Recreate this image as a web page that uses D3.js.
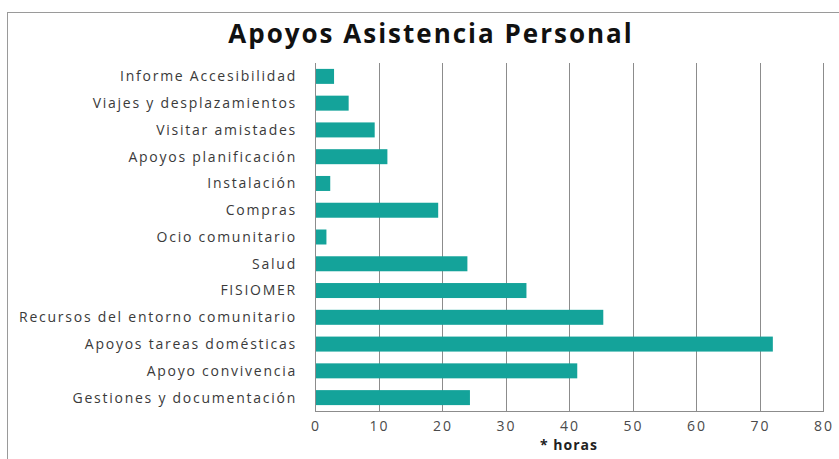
<!DOCTYPE html>
<html>
<head>
<meta charset="utf-8">
<script src="https://cdn.jsdelivr.net/npm/d3@7"></script>
<style>
  body { margin: 0; background: #fff; }
  svg { display: block; font-family: "Open Sans", sans-serif; }
  .y-label { fill: #3a3a3a; font-size: 14px; letter-spacing: 1.75px; }
  .tick-label { fill: #4a4a4a; font-size: 14px; letter-spacing: 2px; }
</style>
</head>
<body>
<div id="chart"></div>
<script>
// categories top to bottom, hours
const categories = [
  "Informe Accesibilidad",
  "Viajes y desplazamientos",
  "Visitar amistades",
  "Apoyos planificación",
  "Instalación",
  "Compras",
  "Ocio comunitario",
  "Salud",
  "FISIOMER",
  "Recursos del entorno comunitario",
  "Apoyos tareas domésticas",
  "Apoyo convivencia",
  "Gestiones y documentación"
];
const hours = [3, 5.3, 9.4, 11.4, 2.4, 19.4, 1.8, 24, 33.3, 45.4, 72.1, 41.3, 24.4];
const xTicks = [0, 10, 20, 30, 40, 50, 60, 70, 80];

const chartTitle = "Apoyos Asistencia Personal";
const xTitle = "* horas";

const width = 839, height = 459;
const margin = { top: 63, right: 16, bottom: 48, left: 315 };
const plotW = width - margin.left - margin.right;
const plotH = height - margin.top - margin.bottom;

const rows = categories.map((c, i) => ({ cat: c, val: hours[i] }));

const svg = d3.select("#chart").append("svg")
  .attr("width", width)
  .attr("height", height);

// outer chart frame
svg.append("rect")
  .attr("x", 7.5).attr("y", 12.5)
  .attr("width", width).attr("height", height)
  .attr("fill", "none")
  .attr("stroke", "#9a9a9a");

svg.append("text")
  .attr("x", 431).attr("y", 43)
  .attr("text-anchor", "middle")
  .attr("font-size", "26px")
  .attr("font-weight", "bold")
  .attr("letter-spacing", "2px")
  .attr("fill", "#111")
  .text(chartTitle);

const g = svg.append("g").attr("transform", `translate(${margin.left},${margin.top})`);

const x = d3.scaleLinear().domain([0, 80]).range([0, plotW]);
const y = d3.scaleBand().domain(categories).range([0, plotH]).paddingInner(0.44).paddingOuter(0.22);

// vertical gridlines
g.append("g").selectAll("line").data(xTicks.slice(1))
  .join("line")
  .attr("x1", d => Math.round(x(d)) + 0.5)
  .attr("x2", d => Math.round(x(d)) + 0.5)
  .attr("y1", 0).attr("y2", plotH)
  .attr("stroke", "#8c8c8c");

// bars
g.append("g").selectAll("rect").data(rows)
  .join("rect")
  .attr("x", x(0))
  .attr("y", d => y(d.cat))
  .attr("width", d => x(d.val) - x(0))
  .attr("height", y.bandwidth())
  .attr("fill", "#14a39a");

// axes lines
g.append("line")
  .attr("x1", 0.5).attr("x2", 0.5).attr("y1", 0).attr("y2", plotH)
  .attr("stroke", "#8c8c8c");
g.append("line")
  .attr("x1", 0).attr("x2", plotW + 1).attr("y1", plotH + 0.5).attr("y2", plotH + 0.5)
  .attr("stroke", "#8c8c8c");

// category labels
g.append("g").selectAll("text").data(categories)
  .join("text")
  .attr("class", "y-label")
  .attr("x", -18)
  .attr("y", d => y(d) + y.bandwidth() / 2)
  .attr("dy", "0.35em")
  .attr("text-anchor", "end")
  .text(d => d);

// tick labels
g.append("g").selectAll("text").data(xTicks)
  .join("text")
  .attr("class", "tick-label")
  .attr("x", d => x(d) + 1)
  .attr("y", plotH + 20)
  .attr("text-anchor", "middle")
  .text(d => d);

g.append("text")
  .attr("x", x(40))
  .attr("y", plotH + 39)
  .attr("text-anchor", "middle")
  .attr("font-size", "14px")
  .attr("font-weight", "bold")
  .attr("letter-spacing", "1px")
  .attr("fill", "#222")
  .text(xTitle);
</script>
</body>
</html>
